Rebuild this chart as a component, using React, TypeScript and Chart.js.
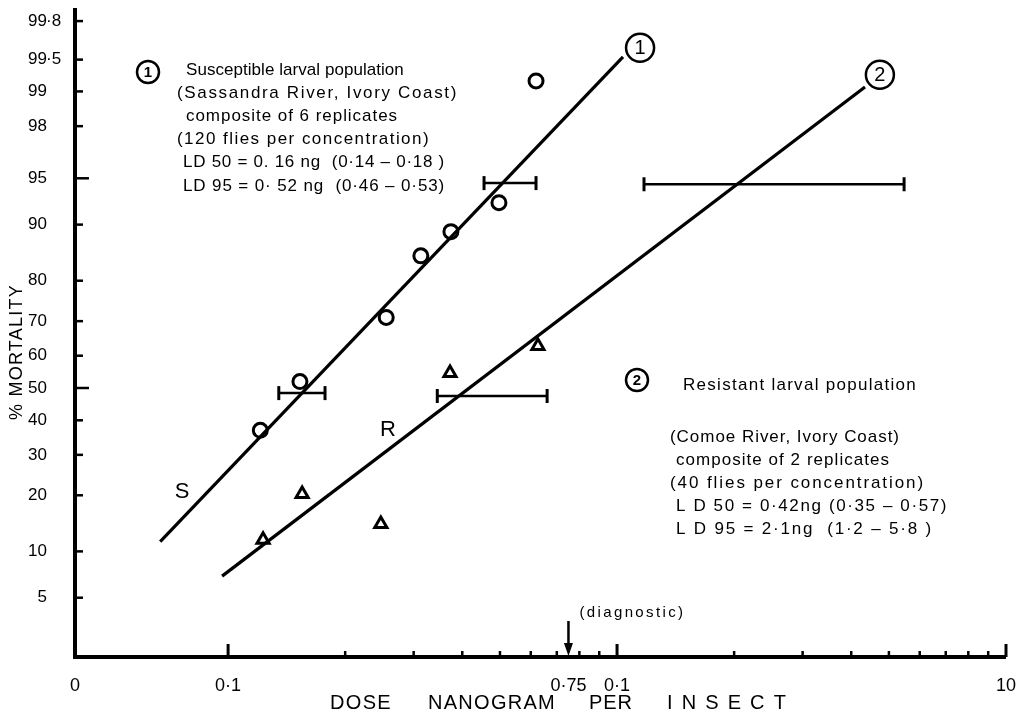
import React, { useEffect, useRef } from 'react';
import { Chart, registerables } from 'chart.js';
Chart.register(...registerables);

const W = 1019;
const H = 714;

// Susceptible (S) population observations: dose (ng) and % mortality
const sDose = [0.121, 0.153, 0.255, 0.313, 0.374, 0.497, 0.619];
const sMort = [37, 52, 71, 85, 89, 92.7, 99.2];
// Resistant (R) population observations
const rDose = [0.123, 0.155, 0.247, 0.372, 0.626];
const rMort = [11.7, 20.3, 14.3, 54.7, 62.9];
// Fitted probit lines (end points)
const sLineDose = [0.0669, 1.036];
const sLineMort = [11.4, 99.53];
const rLineDose = [0.0965, 4.34];
const rLineMort = [7.0, 99.09];
// Line labels (circled numbers) positions
const labelDose = [1.146, 4.74];
const labelMort = [99.62, 99.3];
const labelText = ['1', '2'];
// Fiducial limit bars: [low dose, high dose], mortality level
const sLD50Bar = [0.135, 0.1775];
const sLD50Mort = 48.4;
const sLD95Bar = [0.455, 0.619];
const sLD95Mort = 94.6;
const rLD50Bar = [0.345, 0.661];
const rLD50Mort = 47.5;
const rLD95Bar = [1.173, 5.47];
const rLD95Mort = 94.5;
// Axis ticks
const yTickValues = [5, 10, 20, 30, 40, 50, 60, 70, 80, 90, 95, 98, 99, 99.5, 99.8];
const yTickInt = ['5', '10', '20', '30', '40', '50', '60', '70', '80', '90', '95', '98', '99', '99', '99'];
const yTickDec = ['', '', '', '', '', '', '', '', '', '', '', '', '', '·5', '·8'];
const yLongTicks = [50, 95];
const xMinorTicks = [0.2, 0.3, 0.4, 0.5, 0.6, 0.7, 0.8, 0.9, 2, 3, 4, 5, 6, 7, 8, 9];
const xMajorTicks = [0.1, 1, 10];
const xMin = 0.0404;
const xMax = 10;
const xTickValues = [xMin, 0.1, 0.75, 1, 10];
const xTickLabels = ['0', '0·1', '0·75', '0·1', '10'];
const diagnosticDose = 0.75;

const block1 = [
  'Susceptible larval population',
  '(Sassandra River, Ivory Coast)',
  'composite of 6 replicates',
  '(120 flies per concentration)',
  'LD 50 = 0. 16 ng  (0·14 – 0·18 )',
  'LD 95 = 0· 52 ng  (0·46 – 0·53)',
];
const block2 = [
  'Resistant larval population',
  '(Comoe River, Ivory Coast)',
  'composite of 2 replicates',
  '(40 flies per concentration)',
  'L D 50 = 0·42ng (0·35 – 0·57)',
  'L D 95 = 2·1ng  (1·2 – 5·8 )',
];
const xTitleWords = ['DOSE', 'NANOGRAM', 'PER', 'INSECT'];

// inverse standard normal CDF (Acklam)
function probit(p: number): number {
  const a = [-3.969683028665376e1, 2.209460984245205e2, -2.759285104469687e2, 1.38357751867269e2, -3.066479806614716e1, 2.506628277459239];
  const b = [-5.447609879822406e1, 1.615858368580409e2, -1.556989798598866e2, 6.680131188771972e1, -1.328068155288572e1];
  const c = [-7.784894002430293e-3, -3.223964580411365e-1, -2.400758277161838, -2.549732539343734, 4.374664141464968, 2.938163982698783];
  const d = [7.784695709041462e-3, 3.224671290700398e-1, 2.445134137142996, 3.754408661907416];
  const pl = 0.02425;
  let q: number, r: number;
  if (p < pl) {
    q = Math.sqrt(-2 * Math.log(p));
    return (((((c[0] * q + c[1]) * q + c[2]) * q + c[3]) * q + c[4]) * q + c[5]) / ((((d[0] * q + d[1]) * q + d[2]) * q + d[3]) * q + 1);
  }
  if (p <= 1 - pl) {
    q = p - 0.5;
    r = q * q;
    return ((((((a[0] * r + a[1]) * r + a[2]) * r + a[3]) * r + a[4]) * r + a[5]) * q) / (((((b[0] * r + b[1]) * r + b[2]) * r + b[3]) * r + b[4]) * r + 1);
  }
  q = Math.sqrt(-2 * Math.log(1 - p));
  return -(((((c[0] * q + c[1]) * q + c[2]) * q + c[3]) * q + c[4]) * q + c[5]) / ((((d[0] * q + d[1]) * q + d[2]) * q + d[3]) * q + 1);
}

const pz = (m: number) => probit(m / 100);
const pts = (xs: number[], ms: number[]) => xs.map((x, i) => ({ x, y: pz(ms[i]) }));
const bar = (b: number[], m: number) => [{ x: b[0], y: pz(m) }, { x: b[1], y: pz(m) }];

const FONT = '"Liberation Sans", Arial, sans-serif';

function fitText(ctx: CanvasRenderingContext2D, text: string, x: number, y: number, width: number) {
  (ctx as any).letterSpacing = '0px';
  const w = ctx.measureText(text).width;
  const n = Math.max(1, text.length);
  const ls = Math.max(-1, (width - w) / n);
  (ctx as any).letterSpacing = ls.toFixed(2) + 'px';
  ctx.fillText(text, x, y);
  (ctx as any).letterSpacing = '0px';
}

const decor = {
  id: 'decor',
  beforeDatasetsDraw(chart: any) {
    const ctx: CanvasRenderingContext2D = chart.ctx;
    const xs = chart.scales.x;
    const ys = chart.scales.y;
    const x0 = xs.getPixelForValue(xMin);
    const yb = ys.bottom;
    ctx.save();
    ctx.strokeStyle = '#000';
    ctx.lineCap = 'butt';
    // axes
    ctx.lineWidth = 4;
    ctx.beginPath();
    ctx.moveTo(x0, ys.top - 2);
    ctx.lineTo(x0, yb);
    ctx.lineTo(xs.right, yb);
    ctx.stroke();
    // y ticks
    ctx.lineWidth = 2.5;
    yTickValues.forEach((v) => {
      const y = ys.getPixelForValue(pz(v));
      const len = yLongTicks.includes(v) ? 14 : 8;
      ctx.beginPath();
      ctx.moveTo(x0, y);
      ctx.lineTo(x0 + len, y);
      ctx.stroke();
    });
    // x ticks
    xMinorTicks.forEach((v) => {
      const x = xs.getPixelForValue(v);
      ctx.beginPath();
      ctx.moveTo(x, yb);
      ctx.lineTo(x, yb - 6);
      ctx.stroke();
    });
    ctx.lineWidth = 3;
    xMajorTicks.forEach((v) => {
      const x = xs.getPixelForValue(v);
      ctx.beginPath();
      ctx.moveTo(x, yb);
      ctx.lineTo(x, yb - 13);
      ctx.stroke();
    });
    ctx.restore();
  },
  afterDraw(chart: any) {
    const ctx: CanvasRenderingContext2D = chart.ctx;
    const xs = chart.scales.x;
    const ys = chart.scales.y;
    const yb = ys.bottom;
    ctx.save();
    ctx.fillStyle = '#000';
    ctx.strokeStyle = '#000';
    // y tick labels (decimal aligned)
    ctx.font = '17px ' + FONT;
    ctx.textBaseline = 'middle';
    yTickValues.forEach((v, i) => {
      const y = ys.getPixelForValue(pz(v));
      ctx.textAlign = 'right';
      ctx.fillText(yTickInt[i], 47, y);
      if (yTickDec[i]) {
        ctx.textAlign = 'left';
        ctx.fillText(yTickDec[i], 46, y);
      }
    });
    // x tick labels
    ctx.textAlign = 'center';
    ctx.font = '18px ' + FONT;
    xTickValues.forEach((v, i) => {
      ctx.fillText(xTickLabels[i], xs.getPixelForValue(v), yb + 29);
    });
    // axis titles
    ctx.font = '20px ' + FONT;
    ctx.textAlign = 'left';
    const twx = [330, 428, 589, 667];
    const tww = [62, 128, 44, 128];
    xTitleWords.forEach((t, i) => fitText(ctx, t, twx[i], 703, tww[i]));
    ctx.save();
    ctx.translate(17, 352);
    ctx.rotate(-Math.PI / 2);
    ctx.font = '18px ' + FONT;
    ctx.textAlign = 'left';
    fitText(ctx, '% MORTALITY', -68, 0, 136);
    ctx.restore();
    // diagnostic arrow
    const ax = xs.getPixelForValue(diagnosticDose);
    ctx.lineWidth = 2.5;
    ctx.beginPath();
    ctx.moveTo(ax, yb - 36);
    ctx.lineTo(ax, yb - 10);
    ctx.stroke();
    ctx.beginPath();
    ctx.moveTo(ax - 4.5, yb - 14);
    ctx.lineTo(ax + 4.5, yb - 14);
    ctx.lineTo(ax, yb - 1);
    ctx.closePath();
    ctx.fill();
    ctx.font = '15px ' + FONT;
    ctx.textAlign = 'left';
    fitText(ctx, '(diagnostic)', ax + 11, yb - 44, 106);
    // circled line labels text
    ctx.font = '20px ' + FONT;
    ctx.textAlign = 'center';
    labelText.forEach((t, i) => {
      ctx.fillText(t, xs.getPixelForValue(labelDose[i]), ys.getPixelForValue(pz(labelMort[i])) + 1);
    });
    // S / R labels
    ctx.font = '22px ' + FONT;
    ctx.fillText('S', 182, 492);
    ctx.fillText('R', 388, 430);
    // annotation circled numbers
    ctx.lineWidth = 2.5;
    ctx.beginPath();
    ctx.arc(148, 72, 11, 0, Math.PI * 2);
    ctx.stroke();
    ctx.font = 'bold 15px ' + FONT;
    ctx.fillText('1', 148, 73);
    ctx.beginPath();
    ctx.arc(637, 380, 11, 0, Math.PI * 2);
    ctx.stroke();
    ctx.fillText('2', 637, 381);
    // annotation text
    ctx.textAlign = 'left';
    ctx.font = '17px ' + FONT;
    const b1x = [186, 177, 186, 177, 183, 183];
    const b1w = [218, 281, 212, 253, 262, 262];
    const b1y = [70, 93, 116, 139, 162, 186];
    block1.forEach((t, i) => fitText(ctx, t, b1x[i], b1y[i], b1w[i]));
    const b2x = [683, 670, 676, 670, 676, 676];
    const b2w = [234, 230, 214, 255, 272, 257];
    const b2y = [385, 437, 460, 483, 506, 529];
    block2.forEach((t, i) => fitText(ctx, t, b2x[i], b2y[i], b2w[i]));
    ctx.restore();
  },
};

export default function App() {
  const ref = useRef<HTMLCanvasElement>(null);
  useEffect(() => {
    const cv = ref.current;
    if (!cv) return;
    const barDs = (b: number[], m: number) => ({
      data: bar(b, m),
      showLine: true,
      borderColor: '#000',
      borderWidth: 2.5,
      pointStyle: 'line' as const,
      rotation: 90,
      pointRadius: 7,
      pointBorderWidth: 3,
      pointBorderColor: '#000',
      clip: false as any,
    });
    const chart = new Chart(cv, {
      type: 'scatter',
      data: {
        datasets: [
          {
            data: pts(sLineDose, sLineMort),
            showLine: true,
            borderColor: '#000',
            borderWidth: 3.2,
            pointRadius: 0,
            clip: false as any,
          },
          {
            data: pts(rLineDose, rLineMort),
            showLine: true,
            borderColor: '#000',
            borderWidth: 3.2,
            pointRadius: 0,
            clip: false as any,
          },
          barDs(sLD50Bar, sLD50Mort),
          barDs(sLD95Bar, sLD95Mort),
          barDs(rLD50Bar, rLD50Mort),
          barDs(rLD95Bar, rLD95Mort),
          {
            data: pts(sDose, sMort),
            pointStyle: 'circle',
            pointRadius: 7,
            pointBorderWidth: 3,
            pointBackgroundColor: 'rgba(255,255,255,0)',
            pointBorderColor: '#000',
            clip: false as any,
          },
          {
            data: pts(rDose, rMort),
            pointStyle: 'triangle',
            pointRadius: 7,
            pointBorderWidth: 3,
            pointBackgroundColor: 'rgba(255,255,255,0)',
            pointBorderColor: '#000',
            clip: false as any,
          },
          {
            data: pts(labelDose, labelMort),
            pointStyle: 'circle',
            pointRadius: 14,
            pointBorderWidth: 2.5,
            pointBackgroundColor: '#fff',
            pointBorderColor: '#000',
            clip: false as any,
          },
        ],
      },
      options: {
        responsive: false,
        animation: false,
        devicePixelRatio: 1,
        layout: { autoPadding: false, padding: { left: 75, right: 13, top: 10, bottom: 57 } },
        scales: {
          x: { type: 'logarithmic', min: xMin, max: xMax, display: false },
          y: { type: 'linear', min: -2.11, max: 2.965, display: false },
        },
        plugins: { legend: { display: false }, tooltip: { enabled: false } },
        events: [],
      },
      plugins: [decor],
    });
    return () => chart.destroy();
  }, []);
  return (
    <div style={{ position: 'absolute', left: 0, top: 0, width: W, height: H, background: '#fff' }}>
      <canvas ref={ref} width={W} height={H} style={{ display: 'block' }} />
    </div>
  );
}
